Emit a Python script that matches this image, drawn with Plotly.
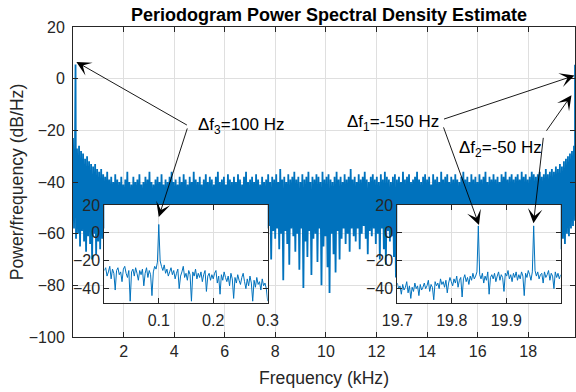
import numpy as np
import plotly.graph_objects as go

# ---------------- data ----------------
# Main periodogram: upper / lower excursions of the dense noise band (dB/Hz),
# every other bin, from 0 to 19.85 kHz
main_hi = [
    -23, -25, -27, -26, -28, -29, -31, -30, -32, -33,
    -34, -33, -35, -36, -35, -37, -38, -36, -39, -38,
    -40, -37, -39, -40, -38, -41, -39, -36, -40, -41,
    -38, -40, -39, -37, -41, -40, -38, -39, -36, -40,
    -41, -39, -38, -40, -37, -41, -39, -40, -38, -36,
    -40, -39, -41, -38, -40, -37, -39, -41, -38, -40,
    -36, -39, -40, -38, -41, -39, -37, -40, -38, -39,
    -41, -38, -36, -40, -39, -38, -41, -37, -39, -40,
    -38, -40, -37, -39, -41, -38, -36, -40, -39, -38,
    -40, -37, -39, -41, -38, -40, -39, -37, -40, -38,
    -39, -37, -40, -35, -39, -38, -40, -37, -39, -38,
    -36, -39, -38, -40, -37, -39, -38, -36, -40, -38,
    -39, -37, -38, -40, -36, -39, -38, -37, -39, -40,
    -38, -36, -39, -38, -40, -37, -39, -38, -35, -39,
    -38, -40, -37, -39, -38, -36, -39, -40, -38, -37,
    -39, -38, -40, -37, -39, -36, -38, -39, -40, -38,
    -37, -39, -38, -40, -36, -39, -38, -37, -40, -39,
    -38, -36, -39, -40, -38, -37, -39, -38, -41, -37,
    -39, -38, -40, -36, -39, -38, -37, -40, -38, -39,
    -37, -39, -40, -38, -36, -39, -38, -40, -37, -39,
    -38, -40, -37, -39, -38, -36, -40, -38, -39, -37,
    -39, -38, -40, -37, -38, -36, -39, -38, -37, -39,
    -38, -37, -39, -36, -38, -37, -39, -38, -36, -37,
    -38, -37, -36, -38, -37, -35, -37, -36, -35, -36,
    -34, -35, -33, -34, -32, -31, -30, -29, -28, -26,
]
main_lo = [
    -58, -62, -60, -65, -59, -63, -67, -61, -64, -70,
    -60, -68, -63, -66, -62, -58, -60, -57, -61, -59,
    -58, -61, -56, -60, -59, -62, -57, -60, -58, -61,
    -56, -59, -62, -57, -60, -58, -61, -56, -59, -60,
    -57, -62, -58, -60, -56, -59, -61, -57, -60, -58,
    -62, -57, -59, -61, -56, -60, -58, -62, -57, -59,
    -60, -56, -61, -58, -59, -62, -57, -60, -58, -61,
    -56, -59, -62, -57, -60, -58, -61, -56, -59, -60,
    -57, -62, -58, -60, -56, -59, -61, -57, -60, -58,
    -62, -57, -59, -61, -56, -60, -58, -57, -70, -59,
    -62, -58, -66, -60, -78, -59, -64, -72, -58, -61,
    -67, -60, -74, -58, -81, -63, -69, -59, -76, -62,
    -60, -71, -58, -80, -65, -61, -73, -83, -60, -68,
    -75, -59, -70, -62, -58, -64, -60, -67, -58, -61,
    -63, -58, -66, -60, -57, -62, -68, -59, -61, -58,
    -64, -60, -70, -58, -66, -72, -59, -63, -61, -69,
    -77, -60, -58, -61, -57, -60, -59, -62, -58, -56,
    -59, -61, -57, -60, -58, -62, -56, -59, -61, -57,
    -60, -58, -62, -56, -59, -61, -57, -60, -58, -62,
    -57, -59, -61, -56, -60, -58, -62, -57, -59, -61,
    -56, -60, -58, -62, -57, -59, -61, -56, -60, -58,
    -62, -57, -59, -61, -56, -60, -58, -62, -57, -59,
    -61, -56, -60, -58, -62, -57, -59, -61, -56, -60,
    -58, -62, -57, -59, -61, -56, -60, -58, -62, -57,
    -59, -61, -66, -62, -64, -60, -61, -58, -57, -55,
]
main_max_khz = 19.85
peak_khz = [0.1, 19.85, 19.95]
peak_db = [5.5, 5.0, 5.0]

# Inset 1: 0 - 0.3 kHz (2.5 Hz bins)
inset1_db = [
    -27, -25, -31, -28, -24, -33, -26, -29, -41, -27,
    -25, -30, -28, -35, -26, -24, -29, -32, -27, -49,
    -28, -26, -31, -25, -29, -34, -27, -30, -26, -38,
    -29, -25, -32, -27, -30, -45, -28, -24, -26, -21,
    6,
    -20, -24, -27, -23, -29, -26, -31, -28, -25,
    -30, -27, -33, -29, -26, -40, -31, -28, -24, -32,
    -29, -34, -27, -30, -49, -28, -31, -26, -33, -29,
    -32, -28, -35, -30, -27, -42, -31, -29, -34, -30,
    -33, -29, -27, -36, -31, -44, -30, -34, -28, -32,
    -35, -31, -38, -29, -33, -47, -32, -36, -30, -34,
    -37, -32, -29, -35, -40, -33, -38, -31, -36, -49,
    -34, -39, -32, -37, -35, -41, -33, -38, -36, -40, -49,
]
inset1_lim = [0.0, 0.3]

# Inset 2: 19.7 - 20.0 kHz (2.5 Hz bins)
inset2_db = [
    -36, -40, -38, -44, -37, -41, -39, -35, -43, -38,
    -47, -39, -42, -36, -40, -38, -45, -37, -41, -39,
    -36, -40, -38, -34, -42, -37, -39, -48, -35, -38,
    -36, -40, -33, -37, -35, -39, -34, -43, -36, -32,
    -35, -38, -33, -36, -31, -39, -34, -32, -46, -33,
    -30, -35, -32, -37, -31, -34, -29, -33, -31, -28,
    5,
    -30, -33, -29, -36, -31, -34, -28, -44, -32, -30,
    -33, -29, -35, -31, -28, -34, -30, -32, -42, -29,
    -31, -27, -33, -30, -35, -29, -32, -28, -34, -30,
    -33, -28, -31, -45, -29, -32, -27, -30, -34, -28,
    5,
    -27, -31, -28, -33, -30, -29, -36, -28, -32,
    -30, -27, -34, -29, -31, -40, -28, -32, -29, -33, -30,
]
inset2_lim = [19.7, 20.0]

main_xticks = [2, 4, 6, 8, 10, 12, 14, 16, 18]
main_yticks = [-100, -80, -60, -40, -20, 0, 20]
inset1_xticks = [0.1, 0.2, 0.3]
inset2_xticks = [19.7, 19.8, 19.9]
inset_yticks = [-40, -20, 0, 20]

# ---------------- build traces ----------------
seq = []
for i in range(max(len(main_hi), len(main_lo))):
    if i < len(main_hi):
        seq.append(main_hi[i])
    if i < len(main_lo):
        seq.append(main_lo[i])
f_main = np.linspace(0, main_max_khz, len(seq))
fx = np.concatenate([f_main, peak_khz])
fy = np.concatenate([seq, peak_db])
order = np.argsort(fx, kind="stable")
fx, fy = fx[order], fy[order]

f1 = np.linspace(inset1_lim[0], inset1_lim[1], len(inset1_db))
f2 = np.linspace(inset2_lim[0], inset2_lim[1], len(inset2_db))

BLUE = "#0072BD"
AX = "#262626"
GRID = "#dfdfdf"
FONT = "Liberation Sans, Arial, Helvetica, sans-serif"
TICK = 16

fig = go.Figure()
fig.add_trace(go.Scatter(x=fx, y=fy, mode="lines", line=dict(color=BLUE, width=1.8, simplify=False),
                         xaxis="x", yaxis="y", showlegend=False, hoverinfo="skip"))
fig.add_trace(go.Scatter(x=f1, y=inset1_db, mode="lines", line=dict(color=BLUE, width=1, simplify=False),
                         xaxis="x2", yaxis="y2", showlegend=False, hoverinfo="skip"))
fig.add_trace(go.Scatter(x=f2, y=inset2_db, mode="lines", line=dict(color=BLUE, width=1, simplify=False),
                         xaxis="x3", yaxis="y3", showlegend=False, hoverinfo="skip"))

common = dict(showline=True, linecolor=AX, linewidth=1, mirror="ticks", ticks="inside",
              ticklen=5, tickcolor=AX, tickwidth=1, showgrid=True, gridcolor=GRID, gridwidth=1,
              zeroline=False, tickfont=dict(family=FONT, size=TICK, color=AX), automargin=False)

ins_y = [0.111, 0.426]
fig.update_layout(
    width=576, height=392,
    margin=dict(l=73, r=1, t=27, b=55),
    paper_bgcolor="white", plot_bgcolor="white",
    font=dict(family=FONT, color=AX),
    title=dict(text="<b>Periodogram Power Spectral Density Estimate</b>",
               font=dict(family=FONT, size=18, color="#000"),
               xref="paper", x=0.51, xanchor="center", y=0.963, yanchor="middle"),
    xaxis=dict(domain=[0, 1], range=[0, main_max_khz], tickvals=main_xticks,
               title=dict(text="Frequency (kHz)", font=dict(family=FONT, size=17.6, color=AX), standoff=12),
               **common),
    yaxis=dict(domain=[0, 1], range=[-100, 20], tickvals=main_yticks,
               title=dict(text="Power/frequency (dB/Hz)", font=dict(family=FONT, size=17.6, color=AX), standoff=0),
               ticklabelstandoff=4, **common),
    xaxis2=dict(domain=[0.0624, 0.3878], range=inset1_lim, tickvals=inset1_xticks, anchor="y2",
                ticklabelstandoff=3, **common),
    yaxis2=dict(domain=ins_y, range=[-50, 20], tickvals=inset_yticks, anchor="x2", **common),
    xaxis3=dict(domain=[0.646, 0.9715], range=inset2_lim, tickvals=inset2_xticks, anchor="y3",
                ticklabelstandoff=3, **common),
    yaxis3=dict(domain=ins_y, range=[-50, 20], tickvals=inset_yticks, anchor="x3", **common),
)

# ---------------- annotations ----------------
arrow_style = dict(showarrow=True, arrowhead=3, arrowsize=2.7, arrowwidth=0.9, arrowcolor="#000",
                   text="", standoff=0, startstandoff=0)
arrows = [
    dict(x=0.134, y=6.5, xref="x", yref="y", ax=112, ay=64),
    dict(x=0.1, y=11.4, xref="x2", yref="y2", ax=29, ay=-90),
    dict(x=19.83, y=1.2, xref="x", yref="y", ax=-132, ay=44),
    dict(x=19.85, y=5.7, xref="x3", yref="y3", ax=-36, ay=-99),
    dict(x=19.71, y=-6.4, xref="x", yref="y", ax=-26, ay=37),
    dict(x=19.95, y=6.8, xref="x3", yref="y3", ax=10, ay=-87),
]
for a in arrows:
    fig.add_annotation(**a, **arrow_style)

labels = [
    ("\u0394f<sub>3</sub>=100 Hz", 4.85, -18.3),
    ("\u0394f<sub>1</sub>=-150 Hz", 10.75, -17.1),
    ("\u0394f<sub>2</sub>=-50 Hz", 15.2, -27.2),
]
for txt, x, y in labels:
    fig.add_annotation(text=txt, x=x, y=y, xref="x", yref="y", showarrow=False,
                       xanchor="left", yanchor="middle",
                       font=dict(family=FONT, size=17, color="#000"))

fig.write_html("out.html")
